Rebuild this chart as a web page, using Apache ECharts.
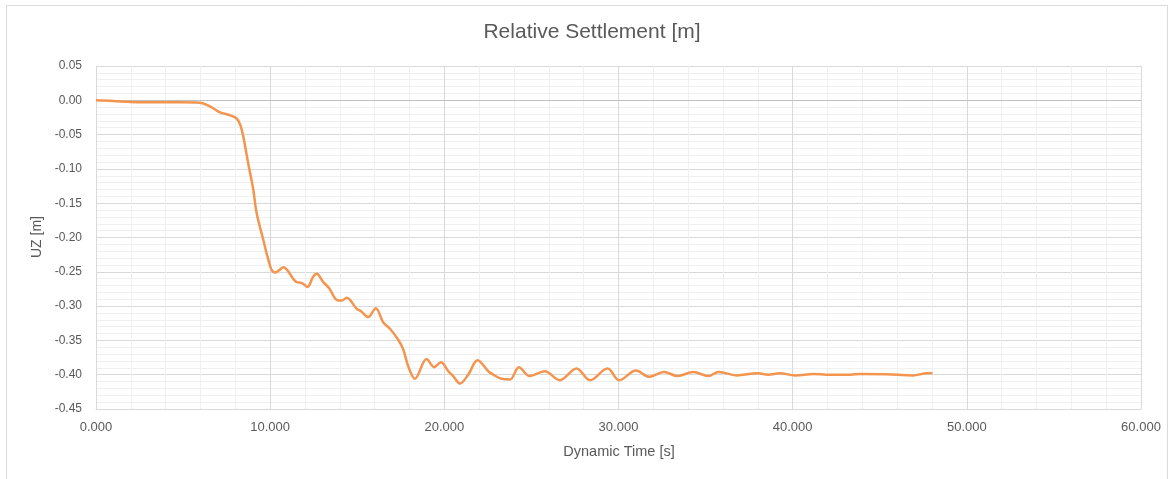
<!DOCTYPE html>
<html>
<head>
<meta charset="utf-8">
<script src="https://cdn.jsdelivr.net/npm/echarts@6/dist/echarts.min.js"></script>
<style>
html,body{margin:0;padding:0;background:#fff;}
#chart{width:1175px;height:479px;}
</style>
</head>
<body>
<div id="chart"></div>
<script>
// Dynamic time [s]
const timeValues = [
  0, 1, 2, 3.5, 4.8, 5.97, 6.54, 7.12, 7.6, 7.98, 8.15, 8.3, 8.46, 8.74, 9.03, 9.22, 9.6, 9.89, 10.08, 10.28,
  10.5, 10.76, 11.0, 11.23, 11.52, 11.81, 12.15, 12.45, 12.67, 13.05, 13.39, 13.82, 14.1, 14.39,
  14.97, 15.2, 15.63, 16.06, 16.5, 16.88, 17.35, 17.64, 17.93, 18.31, 18.98, 19.42, 19.8, 20.26,
  20.51, 20.9, 21.37, 21.91, 22.52, 22.81, 23.29, 23.77, 24.28, 24.9, 25.77, 26.63, 27.59, 28.36,
  29.37, 30.04, 31.0, 31.76, 32.61, 33.4, 34.29, 35.15, 35.75, 36.78, 38.0, 38.6, 39.27, 40.15,
  41.2, 41.94, 43.3, 43.86, 45.39, 46.92, 47.69, 48.03
];
// Relative settlement UZ [m]
const uzValues = [
  0, -0.001, -0.0025, -0.003, -0.003, -0.0035, -0.009, -0.0175, -0.021, -0.025, -0.029, -0.037, -0.053, -0.092, -0.130, -0.164, -0.203, -0.232, -0.247, -0.251,
  -0.248, -0.2435, -0.248, -0.257, -0.265, -0.266, -0.272, -0.258, -0.253, -0.265, -0.274, -0.291, -0.292, -0.288,
  -0.304, -0.307, -0.316, -0.303, -0.324, -0.333, -0.349, -0.363, -0.388, -0.406, -0.377, -0.389, -0.382, -0.396,
  -0.402, -0.413, -0.400, -0.379, -0.395, -0.400, -0.406, -0.407, -0.389, -0.402, -0.395, -0.408, -0.391, -0.408,
  -0.391, -0.408, -0.394, -0.403, -0.396, -0.402, -0.396, -0.402, -0.396, -0.401, -0.398, -0.400, -0.398, -0.401,
  -0.399, -0.400, -0.400, -0.399, -0.3995, -0.401, -0.398, -0.398
];
const titleText = 'Relative Settlement [m]';
const xName = 'Dynamic Time [s]';
const yName = 'UZ [m]';

const seriesData = timeValues.map((t, i) => [t, uzValues[i]]);
const font = 'Liberation Sans, Arial, sans-serif';
const chart = echarts.init(document.getElementById('chart'), null, {renderer: 'canvas'});
chart.setOption({
  animation: false,
  backgroundColor: '#ffffff',
  grid: {left: 96, right: 34, top: 66, bottom: 70, containLabel: false},
  graphic: [
    {type: 'rect', shape: {x: 6.5, y: 5.5, width: 1161, height: 490}, style: {fill: 'none', stroke: '#d9d9d9', lineWidth: 1}, silent: true, z: -10},
    {type: 'text', style: {text: titleText, x: 592, y: 32, textAlign: 'center', textVerticalAlign: 'middle', fill: '#595959', font: '21px ' + font}},
    {type: 'text', style: {text: xName, x: 619, y: 452, textAlign: 'center', textVerticalAlign: 'middle', fill: '#595959', font: '14.5px ' + font}},
    {type: 'text', rotation: Math.PI / 2, x: 37, y: 237, style: {text: yName, x: 0, y: 0, textAlign: 'center', textVerticalAlign: 'middle', fill: '#595959', font: '14px ' + font}}
  ],
  xAxis: {
    type: 'value', min: 0, max: 60, interval: 10,
    axisLine: {show: true, onZero: false, lineStyle: {color: '#d9d9d9', width: 1}},
    axisTick: {show: false},
    axisLabel: {color: '#595959', fontFamily: font, fontSize: 13, margin: 12, showMinLabel: true, showMaxLabel: true,
      formatter: v => v.toFixed(3)},
    splitLine: {show: true, lineStyle: {color: '#d9d9d9', width: 1}},
    minorTick: {show: false, splitNumber: 5},
    minorSplitLine: {show: true, lineStyle: {color: '#f0f0f0', width: 1}}
  },
  yAxis: {
    type: 'value', min: -0.45, max: 0.05, interval: 0.05,
    axisLine: {show: true, lineStyle: {color: '#d9d9d9', width: 1}},
    axisTick: {show: false},
    axisLabel: {color: '#595959', fontFamily: font, fontSize: 12, margin: 14,
      formatter: v => v.toFixed(2)},
    splitLine: {show: true, lineStyle: {color: '#d9d9d9', width: 1}},
    minorTick: {show: false, splitNumber: 5},
    minorSplitLine: {show: true, lineStyle: {color: '#f0f0f0', width: 1}}
  },
  series: [{
    type: 'line',
    data: seriesData,
    showSymbol: false,
    smooth: 0.35,
    lineStyle: {color: '#F4954F', width: 2.5},
    z: 5,
    markLine: {
      silent: true, symbol: 'none', label: {show: false},
      lineStyle: {color: '#bfbfbf', width: 1, type: 'solid'},
      data: [{yAxis: 0}],
      z: 1
    }
  }]
});
</script>
</body>
</html>
